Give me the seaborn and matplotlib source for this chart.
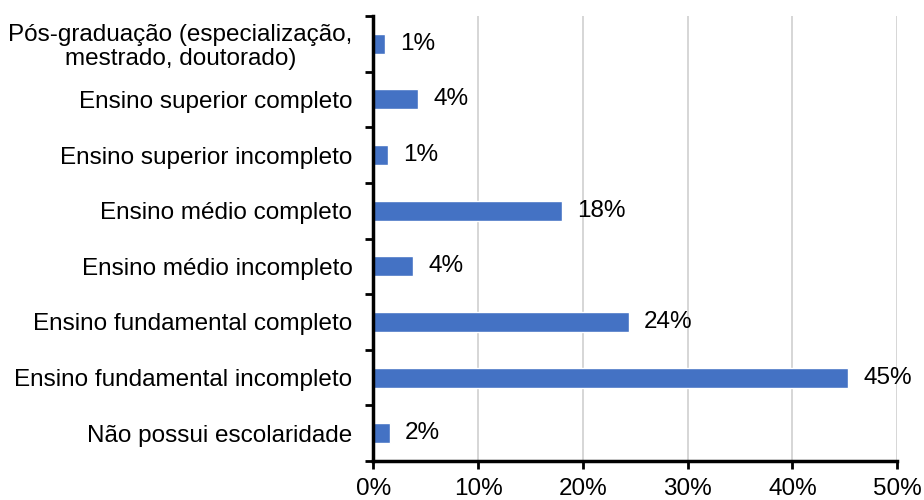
import numpy as np
import pandas as pd
import matplotlib
matplotlib.use('Agg')
import matplotlib.pyplot as plt
import seaborn as sns

# data (percent)
categories = [
    'Pós-graduação (especialização,\nmestrado, doutorado)',
    'Ensino superior completo',
    'Ensino superior incompleto',
    'Ensino médio completo',
    'Ensino médio incompleto',
    'Ensino fundamental completo',
    'Ensino fundamental incompleto',
    'Não possui escolaridade',
]
values = [1.15, 4.3, 1.4, 18.0, 3.8, 24.4, 45.3, 1.55]
labels = ['1%', '4%', '1%', '18%', '4%', '24%', '45%', '2%']
x_ticks = [0, 10, 20, 30, 40, 50]

df = pd.DataFrame({'cat': categories, 'val': values})

sns.set_style('white')
plt.rcParams['font.family'] = ['Liberation Sans', 'DejaVu Sans']
plt.rcParams['text.color'] = 'black'
plt.rcParams['xtick.color'] = 'black'
plt.rcParams['ytick.color'] = 'black'

FS = 17.5

fig, ax = plt.subplots(figsize=(9.24, 5.0), dpi=100)
fig.subplots_adjust(left=0.404, right=0.971, top=0.968, bottom=0.078)

sns.barplot(data=df, x='val', y='cat', orient='h', color='#4472C4',
            width=0.36, saturation=1, ax=ax, zorder=3)

for i, (v, lab) in enumerate(zip(values, labels)):
    ax.annotate(lab, (v, i), xytext=(11, 0), textcoords='offset points',
                va='center', ha='left', fontsize=FS, color='black')

ax.set_xlim(0, 50)
ax.set_ylim(len(categories) - 0.5, -0.5)
ax.set_xticks(x_ticks)
ax.set_xticklabels([f'{t}%' for t in x_ticks], fontsize=FS)
ax.set_xlabel('')
ax.set_ylabel('')

# category labels centred between boundary ticks (Excel style)
ax.set_yticks(np.arange(len(categories)))
ax.set_yticklabels(categories, fontsize=FS, multialignment='center',
                   linespacing=1.1)
ax.tick_params(axis='y', which='major', length=0, pad=15)
ax.set_yticks(np.arange(len(categories) + 1) - 0.5, minor=True)
ax.tick_params(axis='y', which='minor', length=6, width=2, color='black',
               direction='out', left=True)
ax.tick_params(axis='x', length=6, width=2, color='black', direction='out',
               bottom=True, pad=6)

ax.grid(axis='x', color='#D0D0D0', linewidth=1.2, zorder=0)
ax.grid(axis='y', visible=False)

for s in ['top', 'right']:
    ax.spines[s].set_visible(False)
for s in ['left', 'bottom']:
    ax.spines[s].set_color('black')
    ax.spines[s].set_linewidth(2.5)
    ax.spines[s].set_zorder(4)

plt.savefig('out.png', dpi=100)
